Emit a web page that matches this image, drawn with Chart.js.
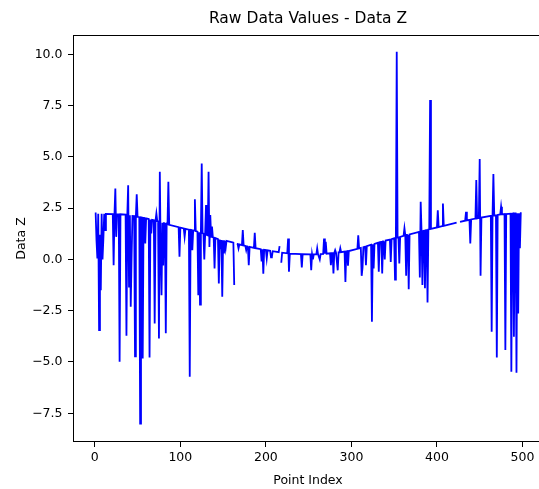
<!DOCTYPE html>
<html>
<head>
<meta charset="utf-8">
<script src="https://cdn.jsdelivr.net/npm/chart.js@4.4.1/dist/chart.umd.min.js"></script>
<style>
    html, body { margin: 0; padding: 0; background: #fff; overflow: hidden; }
    #wrap { width: 539px; height: 489px; overflow: hidden; }
</style>
</head>
<body>
<div id="wrap"><canvas id="rawChart" width="560" height="489"></canvas></div>
<script>
// point index / value pairs (null = gap in the line)
const pointIndex = [
    0, 1, 2, 3, 4, 5, 6, 7, 8, 9,
    10, 11, 12, 13, 21, 22, 23, 24, 25, 26,
    28, 29, 30, 36, 37, 38, 39, 40, 41, 42,
    43, 44, 46, 47, 48, 49, 50, 52, 53, 54,
    55, 56, 57, 58, 59, 60, 63, 64, 65, 66,
    67, 69, 70, 71, 72, 73, 74, 75, 76, 77,
    78, 79, 80, 81, 82, 83, 84, 85, 86, 87,
    98, 99, 100, 104, 105, 106, 110, 111, 112, 113,
    114, 115, 116, 117, 118, 120, 121, 122, 123, 124,
    125, 126, 127, 128, 129, 130, 131, 132, 133, 134,
    135, 136, 137, 138, 139, 140, 141, 144, 145, 146,
    147, 148, 149, 150, 151, 152, 153, 154, 161, 162,
    163, 164, 165, 166, 167, 168, 169, 172, 173, 174,
    176, 177, 178, 179, 180, 181, 186, 187, 188, 194,
    195, 196, 197, 198, 200, 201, 202, 205, 206, 207,
    208, 215, 216, 217, 218, 219, 225, 226, 227, 228,
    241, 242, 243, 252, 253, 254, 255, 256, 259, 260,
    261, 262, 263, 264, 267, 268, 269, 270, 271, 275,
    276, 277, 278, 279, 280, 281, 282, 283, 284, 285,
    286, 287, 288, 292, 293, 294, 295, 296, 297, 307,
    308, 309, 311, 312, 313, 314, 316, 317, 318, 323,
    324, 325, 326, 327, 331, 332, 333, 335, 336, 337,
    338, 339, 340, 345, 346, 347, 350, 351, 352, 353,
    354, 355, 356, 357, 361, 362, 363, 364, 365, 366,
    367, 368, 379, 380, 381, 382, 383, 384, 385, 386,
    387, 388, 389, 390, 391, 392, 393, 400, 401, 402,
    406, 407, 408, 423, 424, 425, 426, 427, 433, 434,
    435, 438, 439, 440, 445, 446, 447, 449, 450, 451,
    452, 463, 464, 465, 466, 467, 469, 470, 471, 474,
    475, 476, 479, 480, 481, 486, 487, 488, 489, 490,
    491, 492, 493, 494, 495, 496, 497, 498, 499
];
const dataZ = [
    2.24, 2.24, 0.9, 0.05, 2.23, -3.45, 1.2, -1.5, 2.23, 0.0,
    1.0, 2.23, 1.43, 2.22, 2.21, -0.28, 2.21, 3.46, 1.1, 2.2,
    2.2, -4.99, 2.2, 2.18, -3.72, 2.17, 3.62, -1.33, 2.15, -2.31,
    0.13, 2.12, 2.11, -4.72, 2.09, 3.18, 2.08, 2.06, -8.0, 2.05,
    2.04, -4.83, 2.03, 2.02, 0.78, 2.0, 1.97, -4.78, 1.95, 1.27,
    1.93, 1.91, -3.12, 1.89, 2.24, 1.87, 1.86, -3.85, 4.27, 0.31,
    -1.74, 1.79, -0.3, 1.77, 1.76, -3.6, 1.74, 1.72, 3.78, 1.69,
    1.57, 0.13, 1.55, 1.51, 1.1, 1.49, 1.45, -5.72, 1.44, 1.43,
    0.45, 1.41, 1.4, 2.93, 1.38, 1.35, -1.75, 1.32, -2.2, 1.3,
    4.68, 1.28, 1.26, 0.0, 1.22, 2.65, 1.19, 1.17, 4.27, 0.61,
    2.16, 1.1, 1.6, 1.08, 1.07, -0.44, 1.04, 0.99, -1.17, 0.97,
    0.5, 0.95, -1.82, 0.93, 0.29, 0.91, 0.55, 0.9, 0.83, 0.82,
    -1.25, null, null, 0.76, 0.75, 0.54, 0.73, 0.7, 1.43, 0.68,
    0.66, 0.45, 0.64, 0.63, -0.28, 0.61, 0.56, 1.3, 0.55, 0.5,
    -0.1, 0.49, -0.7, 0.47, 0.46, 0.05, 0.44, 0.42, 0.1, 0.13,
    0.4, 0.35, 0.65, null, -0.16, 0.33, 0.3, 1.02, -0.6, 0.28,
    0.26, -0.39, 0.26, 0.25, -0.53, 0.25, 0.0, 0.25, 0.25, 0.54,
    0.25, 0.25, 0.0, 0.26, 0.27, 1.02, 0.28, 0.86, 0.28, 0.3,
    -0.28, 0.31, 0.31, -0.68, 0.32, 0.45, 0.33, 0.33, -0.53, 0.34,
    0.34, 0.55, 0.35, 0.38, -1.1, 0.39, 0.4, -0.3, 0.41, 0.52,
    1.18, 0.54, 0.56, -0.8, -0.4, 0.6, 0.62, -0.28, 0.65, 0.72,
    -3.04, 0.74, -0.44, 0.76, 0.81, -0.6, 0.84, 0.86, -0.68, 0.88,
    0.89, 0.0, 0.92, 0.97, -0.12, 0.99, 1.03, -0.98, 1.05, 10.12,
    1.07, 1.08, -0.2, 1.1, 1.15, 1.52, 1.17, -0.8, 1.19, 1.2,
    -1.45, 1.22, 1.34, -0.88, 2.81, 1.37, -1.25, 1.39, 1.4, -1.4,
    1.42, 1.43, -2.1, 1.46, 1.47, 7.77, 1.49, 1.56, 2.4, 1.58,
    1.62, 2.73, 1.64, 1.79, null, null, null, 1.83, 1.89, 2.32,
    1.9, 1.93, 0.78, 1.95, 1.99, 3.87, 2.0, 2.02, 4.89, -0.8,
    2.04, 2.12, -3.53, 2.13, 4.16, 2.14, 2.15, -4.78, 2.17, 2.19,
    2.57, 2.2, 2.21, -4.42, 2.21, 2.23, -5.48, 2.23, 2.24, -3.77,
    2.24, 2.24, -5.53, 2.25, -2.63, 2.25, 0.54, 2.26, 2.26
];
const xTicks = [0, 100, 200, 300, 400, 500];
const yTicks = [-7.5, -5.0, -2.5, 0.0, 2.5, 5.0, 7.5, 10.0];

const FONT = "'DejaVu Sans', sans-serif";

// matplotlib-like frame (all four spines)
const framePlugin = {
    id: 'frame',
    afterDraw(chart) {
        const { ctx, chartArea: a } = chart;
        ctx.save();
        ctx.strokeStyle = '#000';
        ctx.lineWidth = 1;
        ctx.strokeRect(Math.round(a.left) + 0.5, Math.round(a.top) + 0.5,
            Math.round(a.right - a.left), Math.round(a.bottom - a.top) - 1);
        ctx.restore();
    }
};

const minusFmt = v => v.toFixed(1).replace('-', '\u2212');

new Chart(document.getElementById('rawChart'), {
    type: 'line',
    data: {
        datasets: [{
            data: pointIndex.map((x, k) => ({ x: x, y: dataZ[k] })),
            borderColor: '#0000ff',
            borderWidth: 1.8,
            pointRadius: 0,
            tension: 0,
            spanGaps: false,
            fill: false
        }]
    },
    options: {
        responsive: false,
        animation: false,
        events: [],
        layout: { padding: { left: 0, right: 17, top: 0, bottom: 0 } },
        plugins: {
            legend: { display: false },
            tooltip: { enabled: false },
            title: {
                display: true,
                text: 'Raw Data Values - Data Z',
                fullSize: false,
                color: '#000',
                font: { family: FONT, size: 15.5, weight: 'normal', lineHeight: 1.2 },
                padding: { top: 9.5, bottom: 6.9 }
            }
        },
        scales: {
            x: {
                type: 'linear',
                min: -25.5,
                max: 524,
                afterBuildTicks: s => { s.ticks = xTicks.map(v => ({ value: v })); },
                afterFit: s => { s.height = 47; },
                grid: { display: true, drawOnChartArea: false, drawTicks: true, tickLength: 5, tickColor: '#000' },
                border: { display: false },
                ticks: {
                    color: '#000', padding: 3, maxRotation: 0,
                    font: { family: FONT, size: 12.5 },
                    callback: v => String(v)
                },
                title: {
                    display: true, text: 'Point Index', color: '#000',
                    font: { family: FONT, size: 12.5, lineHeight: 1.2 },
                    padding: { top: 0, bottom: 0.5 }
                }
            },
            y: {
                type: 'linear',
                min: -8.9,
                max: 10.94,
                afterBuildTicks: s => { s.ticks = yTicks.map(v => ({ value: v })); },
                afterFit: s => { s.width = 73; },
                grid: { display: true, drawOnChartArea: false, drawTicks: true, tickLength: 5, tickColor: '#000' },
                border: { display: false },
                ticks: {
                    color: '#000', padding: 5.5,
                    font: { family: FONT, size: 12.5 },
                    callback: v => minusFmt(v)
                },
                title: {
                    display: true, text: 'Data Z', color: '#000',
                    font: { family: FONT, size: 12.5, lineHeight: 1.2 },
                    padding: { top: 14.2, bottom: 0 }
                }
            }
        }
    },
    plugins: [framePlugin]
});
</script>
</body>
</html>
